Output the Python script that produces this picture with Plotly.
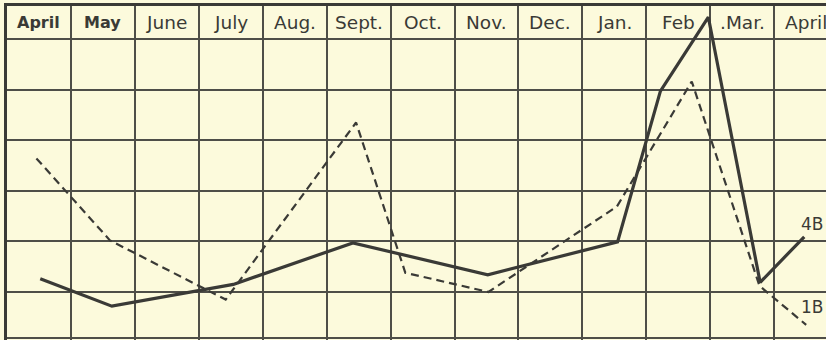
import plotly.graph_objects as go

# Month columns across the top of the chart (one column per month, April to April)
months = ["April", "May", "June", "July", "Aug.", "Sept.", "Oct.", "Nov.",
          "Dec.", "Jan.", "Feb", ".Mar.", "April"]

# Series 4B (solid): position in months from the start of April, and value in grid units
x_4b = [0.52, 1.64, 3.54, 5.41, 7.52, 9.55, 10.22, 10.97, 11.78, 12.47]
y_4b = [0.26, -0.28, 0.15, 0.97, 0.34, 0.99, 3.97, 5.43, 0.19, 1.09]

# Series 1B (dashed)
x_1b = [0.46, 1.61, 3.42, 5.46, 6.23, 7.53, 9.54, 10.71, 11.77, 12.50]
y_1b = [2.64, 1.02, -0.15, 3.35, 0.38, 0.00, 1.69, 4.16, 0.12, -0.65]

series_labels = ["4B", "1B"]

ink = "#3a3a36"
grid = "#4e4e48"
paper = "#fcfadc"

fig = go.Figure()
fig.add_trace(go.Scatter(x=x_4b, y=y_4b, mode="lines", name=series_labels[0],
                         line=dict(color=ink, width=3.2), cliponaxis=False))
fig.add_trace(go.Scatter(x=x_1b, y=y_1b, mode="lines", name=series_labels[1],
                         line=dict(color=ink, width=2.2, dash="8px,5px"), cliponaxis=False))

# Month headings in the top row of cells
for i, m in enumerate(months):
    bold = i < 2
    fig.add_annotation(x=i + 0.5, y=5.33, text=m, showarrow=False,
                       xanchor="center", yanchor="middle",
                       font=dict(family="DejaVu Sans", size=16 if bold else 18.5,
                                 color=ink, weight=700 if bold else 400))

# Series names at the end of each line
fig.add_annotation(x=x_4b[-1] - 0.08, y=y_4b[-1] + 0.25, text=series_labels[0],
                   showarrow=False, xanchor="left", yanchor="middle",
                   font=dict(family="DejaVu Sans", size=17, color=ink))
fig.add_annotation(x=x_1b[-1] - 0.12, y=y_1b[-1] + 0.35, text=series_labels[1],
                   showarrow=False, xanchor="left", yanchor="middle",
                   font=dict(family="DejaVu Sans", size=17, color=ink))

fig.update_layout(
    width=826, height=340,
    margin=dict(l=7, r=0, t=6, b=0),
    paper_bgcolor=paper, plot_bgcolor=paper,
    showlegend=False,
    xaxis=dict(range=[0, 12.81], tickvals=list(range(0, 14)), showticklabels=False,
               ticks="", showgrid=True, gridcolor=grid, gridwidth=1.5,
               zeroline=False, showline=True, side="top", linecolor=ink, linewidth=2.5),
    yaxis=dict(range=[-0.949, 5.652], tickvals=[-0.91, 0, 1, 2, 3, 4, 5],
               showticklabels=False, ticks="", showgrid=True, gridcolor=grid,
               gridwidth=1.5, zeroline=False, showline=True, linecolor=ink, linewidth=3),
)

fig.write_html("out.html")
